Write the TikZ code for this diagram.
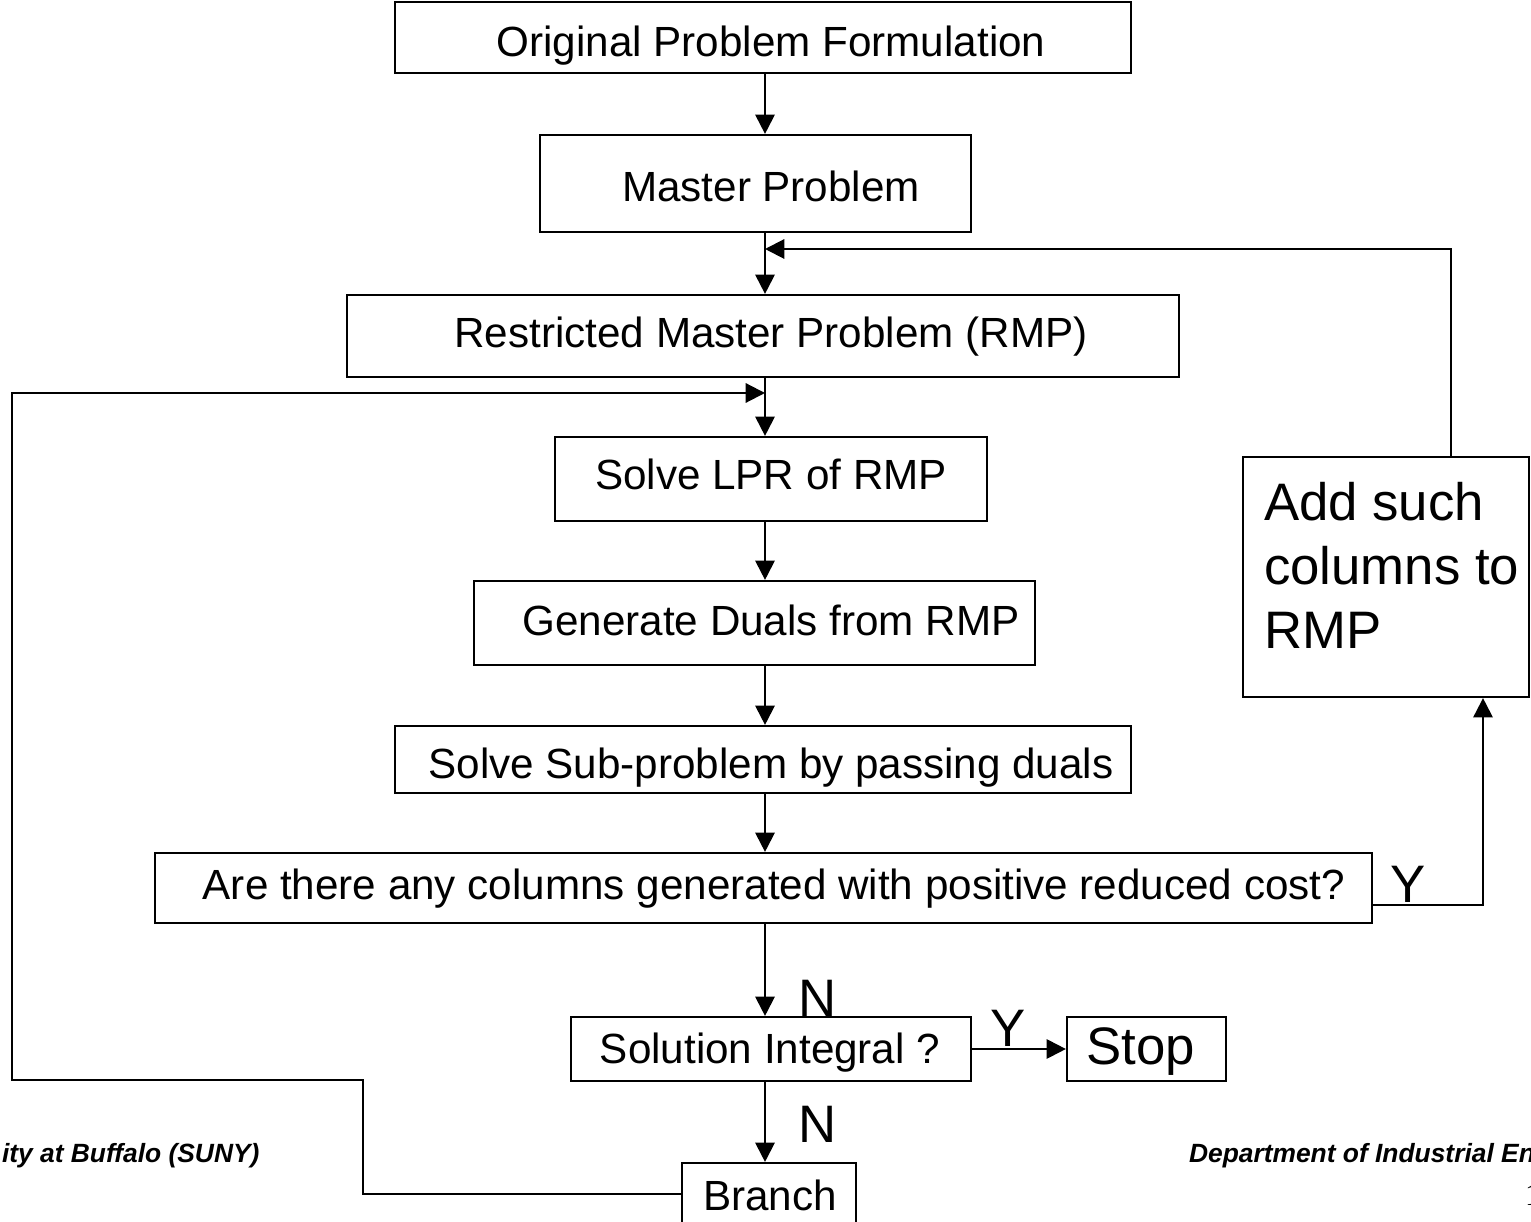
\documentclass[tikz,border=0pt]{standalone}
\usepackage{fontspec}
\setmainfont{Liberation Sans}
\newfontfamily\serifone{Liberation Serif}
\usetikzlibrary{arrows.meta}
\begin{document}
\begin{tikzpicture}[x=0.01cm,y=-0.01cm, line width=0.6pt,
  box/.style={draw, rectangle, inner sep=0pt},
  txt/.style={font=\fontsize{12}{14}\selectfont, inner sep=0pt, anchor=base},
  big/.style={font=\fontsize{15}{18.2}\selectfont, inner sep=0pt, anchor=base},
  arr/.style={-{Triangle[length=5.5pt,width=5.5pt]}},
  foot/.style={font=\fontsize{7.5}{9}\selectfont\bfseries\itshape, inner sep=0pt, anchor=base west}]
\useasboundingbox (0,0) rectangle (1531,1222);
\clip (0,0) rectangle (1531,1222);
% boxes
\node[box, minimum width=7.36cm, minimum height=0.71cm] (b1) at (763,37.5) {};
\node[box, minimum width=4.31cm, minimum height=0.97cm] (b2) at (755.5,183.5) {};
\node[box, minimum width=8.32cm, minimum height=0.82cm] (b3) at (763,336) {};
\node[box, minimum width=4.32cm, minimum height=0.84cm] (b4) at (771,479) {};
\node[box, minimum width=5.61cm, minimum height=0.84cm] (b5) at (754.5,623) {};
\node[box, minimum width=7.36cm, minimum height=0.67cm] (b6) at (763,759.5) {};
\node[box, minimum width=12.17cm, minimum height=0.70cm] (b7) at (763.5,888) {};
\node[box, minimum width=4.00cm, minimum height=0.64cm] (b8) at (771,1049) {};
\node[box, minimum width=1.59cm, minimum height=0.64cm] (stop) at (1146.5,1049) {};
\node[box, minimum width=1.74cm, minimum height=0.62cm] (branch) at (769,1194) {};
\node[box, minimum width=2.86cm, minimum height=2.40cm] (add) at (1386,577) {};
% texts
\node[txt] (t1) at (771,57) {Original Problem Formulation};
\node[txt] (t2) at (771,202) {Master Problem};
\node[txt] (t3) at (771,348) {Restricted Master Problem (RMP)};
\node[txt] (t4) at (771,490) {Solve LPR of RMP};
\node[txt] (t5) at (771,635) {Generate Duals from RMP};
\node[txt] (t6) at (771,778) {Solve Sub-problem by passing duals};
\node[txt] (t7) at (774,899) {Are there any columns generated with positive reduced cost?};
\node[txt] (t8) at (770,1063) {Solution Integral ?};
\node[big] (t9) at (1141,1064) {Stop};
\node[txt] (t10) at (770,1210) {Branch};
\node[font=\fontsize{15}{18.2}\selectfont, inner sep=0pt, anchor=north west, align=left] (t11) at (1263,481) {Add such\\columns to\\RMP};
% labels
\node[big] (ly1) at (1408,902) {Y};
\node[big] (ln1) at (818,1016) {N};
\node[big] (ly2) at (1008,1046) {Y};
\node[big] (ln2) at (818,1142) {N};
% helper coordinates
\coordinate (xl) at (765,0);
\coordinate (m1) at (765,249);
\coordinate (fbx) at (1451,0);
\coordinate (lp) at (765,393);
\coordinate (c1) at (363,1080);
\coordinate (c2) at (12,393);
\coordinate (yy) at (0,905);
\coordinate (yx) at (1483,0);
% connectors
\draw[arr] (b1.south -| xl) -- (b2.north -| xl);
\draw[arr] (b2.south -| xl) -- (b3.north -| xl);
\draw[arr] (b3.south -| xl) -- (b4.north -| xl);
\draw[arr] (b4.south -| xl) -- (b5.north -| xl);
\draw[arr] (b5.south -| xl) -- (b6.north -| xl);
\draw[arr] (b6.south -| xl) -- (b7.north -| xl);
\draw[arr] (b7.south -| xl) -- (b8.north -| xl);
\draw[arr] (b8.south -| xl) -- (branch.north -| xl);
\draw[arr] (b8.east) -- (stop.west);
\draw[arr] (add.north -| fbx) |- (m1);
\draw[arr] (branch.west) -| (c1) -| (c2) |- (lp);
\draw[arr] (b7.east |- yy) -| (add.south -| yx);
% footer
\node[foot] (f1) at (1,1162) {ity at Buffalo (SUNY)};
\node[foot] (f2) at (1188,1162) {Department of Industrial Engineering};
\node[font=\serifone\fontsize{9}{10}\selectfont, inner sep=0pt, anchor=base west] (pg) at (1524,1205) {1};
\end{tikzpicture}
\end{document}
